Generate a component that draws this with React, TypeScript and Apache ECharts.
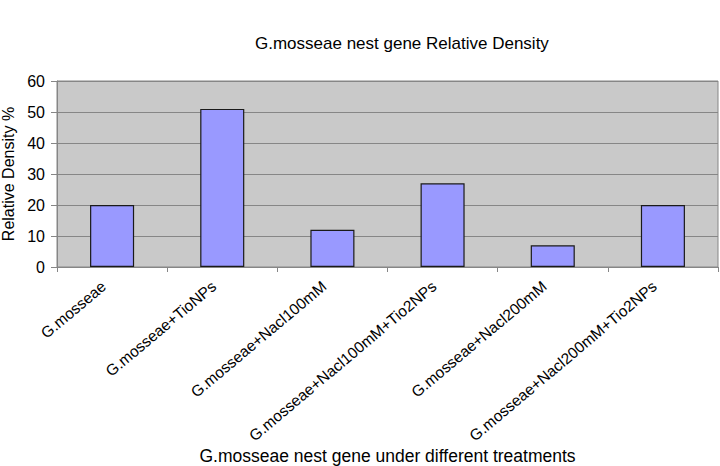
import React, { useEffect, useRef } from "react";
import * as echarts from "echarts";

const categories = [
  "G.mosseae",
  "G.mosseae+TioNPs",
  "G.mosseae+Nacl100mM",
  "G.mosseae+Nacl100mM+Tio2NPs",
  "G.mosseae+Nacl200mM",
  "G.mosseae+Nacl200mM+Tio2NPs",
];
const values = [20, 51, 12, 27, 7, 20];
const yTicks = [0, 10, 20, 30, 40, 50, 60];

const titleText = "G.mosseae nest gene Relative Density";
const xName = "G.mosseae nest gene under different treatments";
const yName = "Relative Density %";

export default function App() {
  const ref = useRef<HTMLDivElement>(null);
  useEffect(() => {
    if (!ref.current) return;
    const chart = echarts.init(ref.current, undefined, { renderer: "svg" });
    const font = "Liberation Sans, Arial, sans-serif";
    chart.setOption({
      animation: false,
      backgroundColor: "#ffffff",
      textStyle: { fontFamily: font },
      title: {
        text: titleText,
        left: 250,
        top: 30,
        textStyle: { fontSize: 17, fontWeight: "normal", color: "#000", fontFamily: font },
      },
      grid: {
        left: 57,
        right: 2,
        top: 81,
        bottom: 199,
        containLabel: false,
        outerBoundsMode: "none",
        show: true,
        backgroundColor: "#c9c9c9",
        borderColor: "#868686",
        borderWidth: 1,
      },
      xAxis: {
        type: "category",
        data: categories,
        boundaryGap: true,
        name: xName,
        nameLocation: "middle",
        nameGap: 180,
        nameTextStyle: { fontSize: 17.5, color: "#000", fontFamily: font },
        axisLine: { show: true, lineStyle: { color: "#868686" } },
        axisTick: { show: true, alignWithLabel: false, length: 5, lineStyle: { color: "#868686" } },
        axisLabel: {
          interval: 0,
          rotate: 40,
          fontSize: 15.5,
          color: "#000",
          margin: 10,
          padding: [0, 11, 0, 0],
          fontFamily: font,
          hideOverlap: false,
        },
      },
      yAxis: {
        type: "value",
        min: yTicks[0],
        max: yTicks[yTicks.length - 1],
        interval: 10,
        name: yName,
        nameLocation: "middle",
        nameRotate: 90,
        nameGap: 40,
        nameTextStyle: { fontSize: 16, color: "#000", fontFamily: font },
        axisLine: { show: true, lineStyle: { color: "#868686" } },
        axisTick: { show: true, length: 6, lineStyle: { color: "#868686" } },
        axisLabel: { fontSize: 16, color: "#000", margin: 12, fontFamily: font },
        splitLine: { show: true, lineStyle: { color: "#868686", width: 1 } },
      },
      series: [
        {
          type: "bar",
          data: values,
          barWidth: "40%",
          itemStyle: { color: "#9999ff", borderColor: "#1a1a1a", borderWidth: 1.2 },
        },
      ],
    });
    return () => chart.dispose();
  }, []);
  return (
    <div
      ref={ref}
      style={{ position: "fixed", left: 0, top: 0, width: 720, height: 466 }}
    />
  );
}
